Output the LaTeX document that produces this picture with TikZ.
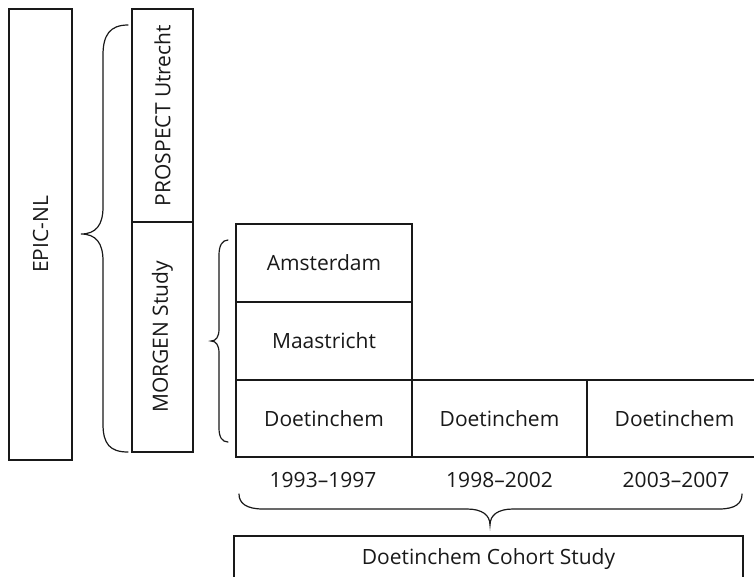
\documentclass[tikz,border=0pt]{standalone}
\usepackage{fontspec}
\setmainfont{Open Sans}
\begin{document}
\begin{tikzpicture}[x=1pt,y=-1pt,
  lw/.style={line width=1.3pt},
  box/.style={draw=black!90, lw, inner sep=0pt, font=\fontsize{21}{25}\selectfont, text=black!90},
  vbox/.style={box, rotate=90},
  yr/.style={inner sep=0pt, font=\fontsize{21}{25}\selectfont, text=black!90},
  brc/.style={draw=black!90, line width=1.2pt, line cap=round}]
\clip (0,0) rectangle (754,576);
\fill[white] (0,0) rectangle (754,576);
% left column
\node[vbox, minimum width=451pt, minimum height=63pt] (epic) at (40.5,234.5) {EPIC-NL};
\node[vbox, minimum width=213pt, minimum height=61pt] (prospect) at (162.5,115.5) {PROSPECT Utrecht};
\node[vbox, minimum width=230pt, minimum height=61pt] (morgen) at (162.5,337) {MORGEN Study};
% grid
\node[box, minimum width=176pt, minimum height=78pt] (ams) at (324,263) {Amsterdam};
\node[box, minimum width=176pt, minimum height=78pt] (maa) at (324,341) {Maastricht};
\node[box, minimum width=176pt, minimum height=77pt] (d1) at (324,418.5) {Doetinchem};
\node[box, minimum width=175pt, minimum height=77pt] (d2) at (499.5,418.5) {Doetinchem};
\node[box, minimum width=175pt, minimum height=77pt] (d3) at (674.5,418.5) {Doetinchem};
% years
\node[yr] (y1) at (323,480) {1993–1997};
\node[yr] (y2) at (499.5,480) {1998–2002};
\node[yr] (y3) at (676,480) {2003–2007};
% cohort
\node[box, minimum width=509pt, minimum height=46pt] (cohort) at (488.5,559) {Doetinchem Cohort Study};
% big brace
\draw[brc] (128,25) .. controls (110,25) and (103,35) .. (103,55) -- (103,207)
  .. controls (103,225) and (96,234) .. (81,234)
  .. controls (96,234) and (103,243) .. (103,261) -- (103,424)
  .. controls (103,444) and (110,452) .. (128,452);
% small brace
\draw[brc] (228,240) .. controls (222,240) and (219,246) .. (219,255) -- (219,329)
  .. controls (219,337) and (216,341) .. (211,341)
  .. controls (216,341) and (219,345) .. (219,353) -- (219,428)
  .. controls (219,437) and (222,442) .. (228,442);
% bottom brace
\draw[brc] (239,494) .. controls (239,503) and (246,509) .. (263,509) -- (467,509)
  .. controls (482,509) and (490,515) .. (490,525)
  .. controls (490,515) and (498,509) .. (513,509) -- (719,509)
  .. controls (736,509) and (742,503) .. (742,494);
\end{tikzpicture}
\end{document}
